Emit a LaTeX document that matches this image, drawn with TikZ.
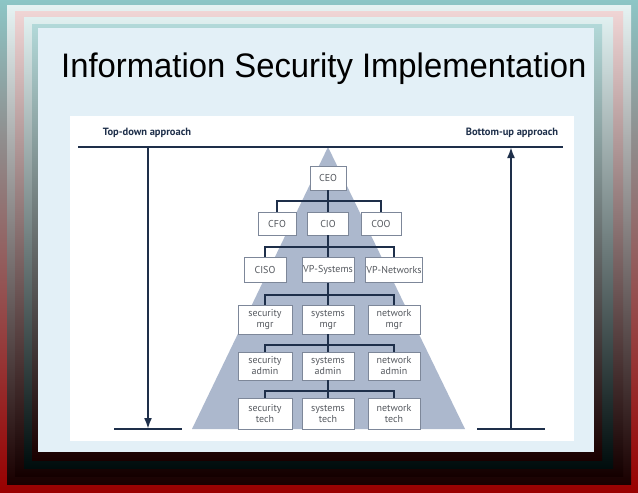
\documentclass[tikz,border=0pt]{standalone}
\usepackage{fontspec}
\setmainfont{Liberation Sans}
\newfontfamily\orgfont{PT Sans}
\usetikzlibrary{arrows.meta}
\definecolor{navy}{HTML}{1E2F4A}
\definecolor{pyr}{HTML}{ACB8CD}
\definecolor{boxline}{HTML}{7D8799}
\definecolor{boxtext}{HTML}{55595F}
\definecolor{panel}{HTML}{E3F0F7}
\begin{document}
\begin{tikzpicture}[x=1pt,y=-1pt,
    box/.style={draw=boxline,line width=0.8pt,fill=white,inner sep=1pt,
      font=\orgfont\fontsize{10}{11}\selectfont,text=boxtext,align=center},
    link/.style={draw=navy,line width=1.3pt},
    main/.style={draw=navy,line width=2pt},
    approach/.style={font=\orgfont\bfseries\fontsize{10.5}{12}\selectfont,text=navy}]
    \useasboundingbox (0,0) rectangle (638,493);

    % Frame
    \shade[top color=teal!45!white,middle color=teal!45!gray!70!black,bottom color=red!60!black] (0,0) rectangle (638,493);
    \shade[top color=teal!10!white,middle color=gray!80!teal,bottom color=black!90!red] (7,5) rectangle (631,484);
    \shade[top color=red!12!white!88!gray,middle color=red!15!gray!85!black,bottom color=black!92!red] (15,11) rectangle (623,476);
    \shade[top color=teal!12!white,middle color=teal!20!gray,bottom color=black!90!teal] (24,17) rectangle (613,468);
    \shade[top color=teal!30!white,middle color=teal!40!gray!80!black,bottom color=black!90!red] (32,24) rectangle (602,460);
    \fill[panel] (38,28) rectangle (594,452);

    % Title
    \node[anchor=base west,font=\fontsize{34}{40}\selectfont,inner sep=0pt] (title) at (61,77) {\scalebox{0.965}[1]{Information Security Implementation}};

    % Figure area
    \fill[white] (70,116) rectangle (574,441);

    % Pyramid
    \fill[pyr] (328,147) -- (465,429) -- (192,429) -- cycle;

    % Approaches
    \coordinate (tl) at (78,147);
    \coordinate (tr) at (563,147);
    \coordinate (ltop) at (148,147);
    \coordinate (lbot) at (148,429);
    \coordinate (rtop) at (511,147);
    \coordinate (rbot) at (511,429);
    \coordinate (bl1) at (114,429);
    \coordinate (bl2) at (182,429);
    \coordinate (br1) at (477,429);
    \coordinate (br2) at (545,429);
    \node[approach] (topdown) at (147,133) {Top-down approach};
    \node[approach] (bottomup) at (512,133) {Bottom-up approach};
    \draw[main] (tl) -- (tr);
    \draw[main,-{Latex[length=11pt,width=8pt]}] (ltop) -- (lbot);
    \draw[main,-{Latex[length=11pt,width=8pt]}] (rbot) -- (rtop);
    \draw[main] (bl1) -- (bl2);
    \draw[main] (br1) -- (br2);

    % Bars
    \coordinate (b2) at (328,201);
    \coordinate (b3) at (328,247);
    \coordinate (b4) at (328,295);
    \coordinate (b5) at (328,345);
    \coordinate (b6) at (328,391);

    % Boxes
    \node[box,minimum width=36pt,minimum height=24pt] (ceo) at (328,178) {CEO};
    \node[box,minimum width=38pt,minimum height=23pt] (cfo) at (277,223.5) {CFO};
    \node[box,minimum width=41pt,minimum height=23pt] (cio) at (328,223.5) {CIO};
    \node[box,minimum width=40pt,minimum height=23pt] (coo) at (381,223.5) {COO};
    \node[box,minimum width=42pt,minimum height=25pt] (ciso) at (265,270) {CISO};
    \node[box,minimum width=52pt,minimum height=25pt] (vpsys) at (328,270) {VP-Systems};
    \node[box,minimum width=53pt,minimum height=25pt] (vpnet) at (394,270) {VP-Networks};
    \node[box,minimum width=54pt,minimum height=29pt] (secmgr) at (265,319.5) {security\\mgr};
    \node[box,minimum width=52pt,minimum height=29pt] (sysmgr) at (328,319.5) {systems\\mgr};
    \node[box,minimum width=52pt,minimum height=29pt] (netmgr) at (394,319.5) {network\\mgr};
    \node[box,minimum width=54pt,minimum height=28pt] (secadm) at (265,366) {security\\admin};
    \node[box,minimum width=52pt,minimum height=28pt] (sysadm) at (328,366) {systems\\admin};
    \node[box,minimum width=52pt,minimum height=28pt] (netadm) at (394,366) {network\\admin};
    \node[box,minimum width=54pt,minimum height=31pt] (sectech) at (265,413.5) {security\\tech};
    \node[box,minimum width=52pt,minimum height=31pt] (systech) at (328,413.5) {systems\\tech};
    \node[box,minimum width=52pt,minimum height=31pt] (nettech) at (394,413.5) {network\\tech};

    % Links
    \draw[link] (ceo) -- (cio);
    \draw[link] (cfo.north) |- (b2) -| (coo.north);
    \draw[link] (cio) -- (vpsys);
    \draw[link] (ciso.north) |- (b3) -| (vpnet.north);
    \draw[link] (vpsys) -- (sysmgr);
    \draw[link] (secmgr.north) |- (b4) -| (netmgr.north);
    \draw[link] (sysmgr) -- (sysadm);
    \draw[link] (secadm.north) |- (b5) -| (netadm.north);
    \draw[link] (sysadm) -- (systech);
    \draw[link] (sectech.north) |- (b6) -| (nettech.north);

\end{tikzpicture}
\end{document}
